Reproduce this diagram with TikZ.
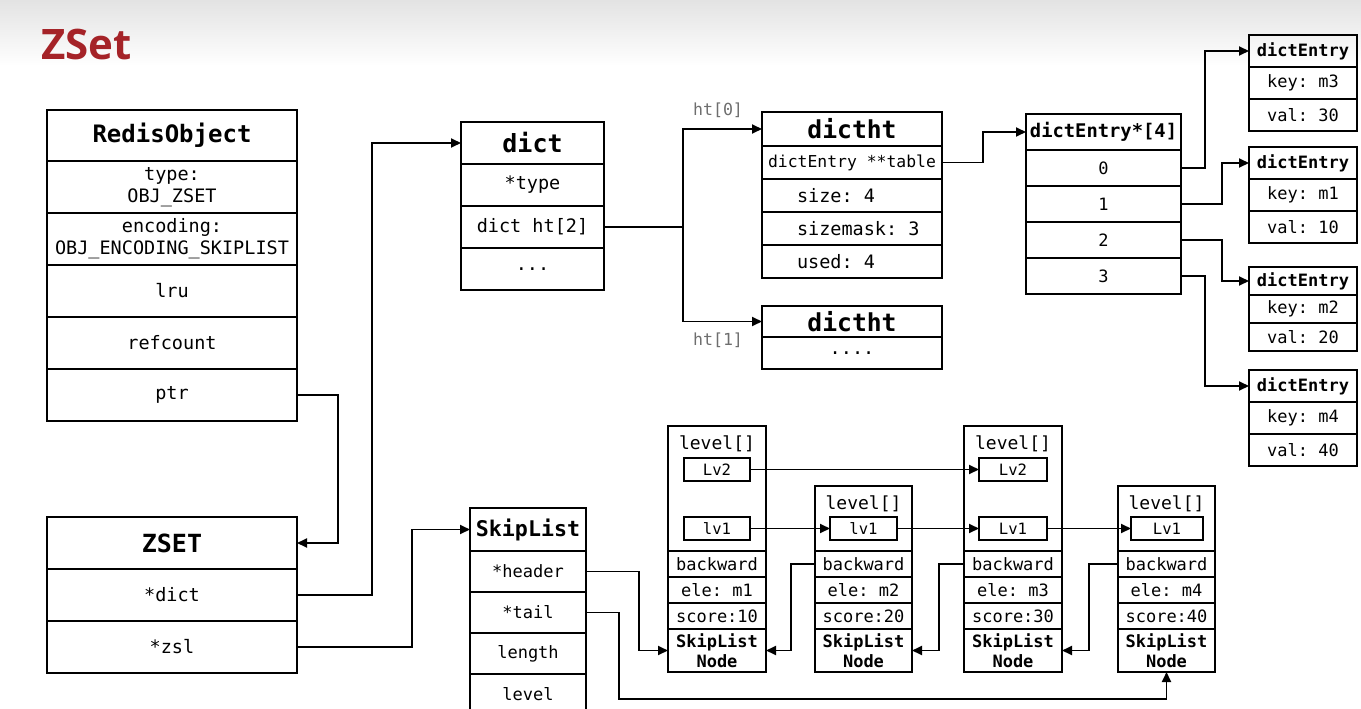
\documentclass[tikz,border=0pt]{standalone}
\usepackage{fontspec}
\setmonofont{DejaVu Sans Mono}
\newfontfamily\titlefont{Open Sans}
\usepackage{tikz}
\usetikzlibrary{arrows.meta, positioning}
\definecolor{titlered}{RGB}{165,35,40}
\definecolor{labelgray}{RGB}{110,110,110}
\newcommand{\fsz}[2]{\fontsize{#1pt}{#2pt}\selectfont\ttfamily}
\newcommand{\dtfield}[1]{\makebox[110pt][l]{#1}}

\begin{document}
\begin{tikzpicture}[x=1pt, y=-1pt,
  >={Triangle[length=10pt, width=9pt]},
  cell/.style={draw, line width=1.9pt, outer sep=0pt, inner sep=0pt, align=center,
    font=\fsz{18.5}{22}},
  head/.style={cell, font=\fsz{24}{28}\bfseries},
  robox/.style={minimum width=250pt, minimum height=52pt},
  dictbox/.style={minimum width=143pt, minimum height=42pt},
  dtrow/.style={cell, minimum width=180pt, minimum height=33pt},
  arrbox/.style={minimum width=155pt, minimum height=36pt},
  slbox/.style={minimum width=116pt, minimum height=41pt, font=\fsz{17}{20}},
  lvbox/.style={draw, line width=1.9pt, outer sep=0pt, inner sep=0pt, minimum height=23pt,
    font=\fsz{15.6}{18}},
  htlabel/.style={inner sep=0pt, text=labelgray, font=\fsz{16.6}{20}},
  line/.style={line width=1.9pt},
  conn/.style={line, ->}
]
\useasboundingbox (0,0) rectangle (1361,709);
\shade[top color=black!11, bottom color=white] (0,0) rectangle (1361,66);
\node[font=\titlefont\fontsize{42pt}{48pt}\selectfont\bfseries, text=titlered,
  anchor=base west, inner sep=0pt] (title) at (41,60) {ZSet};

% RedisObject
\node[head, robox, minimum height=51pt, anchor=north west] (ro) at (47,110) {RedisObject};
\node[cell, robox, below=0pt of ro] (ro-type) {type:\\OBJ\_ZSET};
\node[cell, robox, below=0pt of ro-type] (ro-enc) {encoding:\\OBJ\_ENCODING\_SKIPLIST};
\node[cell, robox, below=0pt of ro-enc] (ro-lru) {lru};
\node[cell, robox, below=0pt of ro-lru] (ro-ref) {refcount};
\node[cell, robox, below=0pt of ro-ref] (ro-ptr) {ptr};

% ZSET
\node[head, robox, font=\fsz{25}{28}\bfseries, anchor=north west] (zs) at (47,517) {ZSET};
\node[cell, robox, below=0pt of zs] (zs-dict) {*dict};
\node[cell, robox, below=0pt of zs-dict] (zs-zsl) {*zsl};

% dict
\node[head, dictbox, font=\fsz{25}{28}\bfseries, anchor=north west] (dict) at (461,122) {dict};
\node[cell, dictbox, below=0pt of dict] (dict-type) {*type};
\node[cell, dictbox, below=0pt of dict-type] (dict-ht) {dict ht[2]};
\node[cell, dictbox, below=0pt of dict-ht] (dict-more) {...};

% dictht
\node[head, minimum width=180pt, minimum height=34pt, font=\fsz{24.7}{28}\bfseries,
  anchor=north west] (ht0) at (762,112) {dictht};
\node[cell, minimum width=180pt, minimum height=33pt, font=\fsz{16.4}{18},
  below=0pt of ht0] (ht0-table) {dictEntry **table};
\node[dtrow, below=0pt of ht0-table] (ht0-size) {\dtfield{size: 4}};
\node[dtrow, below=0pt of ht0-size] (ht0-mask) {\dtfield{sizemask: 3}};
\node[dtrow, below=0pt of ht0-mask] (ht0-used) {\dtfield{used: 4}};
\node[head, minimum width=180pt, minimum height=31pt, font=\fsz{24.7}{28}\bfseries,
  anchor=north west] (ht1) at (762,306) {dictht};
\node[cell, minimum width=180pt, minimum height=32pt, below=0pt of ht1] (ht1-more) {....};
\node[htlabel] (lab0) at (718,110) {ht[0]};
\node[htlabel] (lab1) at (718,340) {ht[1]};

% dictEntry*[4]
\node[head, arrbox, font=\fsz{18.8}{22}\bfseries, anchor=north west] (arr) at (1026,114) {dictEntry*[4]};
\node[cell, arrbox, font=\fsz{17}{20}, below=0pt of arr] (arr-0) {0};
\node[cell, arrbox, font=\fsz{17}{20}, below=0pt of arr-0] (arr-1) {1};
\node[cell, arrbox, font=\fsz{17}{20}, below=0pt of arr-1] (arr-2) {2};
\node[cell, arrbox, font=\fsz{17}{20}, below=0pt of arr-2] (arr-3) {3};

\foreach \n/\top/\h/\k/\v in {1/35/32/m3/30, 2/147/32/m1/10, 3/267/28/m2/20, 4/370/32/m4/40}{
  \node[cell, minimum width=108pt, minimum height=\h pt, font=\fsz{17}{20}\bfseries,
    anchor=north west] (de\n) at (1249,\top) {dictEntry};
  \node[cell, minimum width=108pt, minimum height=\h pt, font=\fsz{17}{20},
    below=0pt of de\n] (de\n-key) {key: \k};
  \node[cell, minimum width=108pt, minimum height=\h pt, font=\fsz{17}{20},
    below=0pt of de\n-key] (de\n-val) {val: \v};
}

% SkipList
\node[head, minimum width=116pt, minimum height=43pt, font=\fsz{21.6}{24}\bfseries,
  anchor=north west] (sl) at (470,508) {SkipList};
\node[cell, slbox, below=0pt of sl] (sl-header) {*header};
\node[cell, slbox, below=0pt of sl-header] (sl-tail) {*tail};
\node[cell, slbox, below=0pt of sl-tail] (sl-length) {length};
\node[cell, slbox, below=0pt of sl-length] (sl-level) {level};

% skiplist nodes
\foreach \n/\x/\top/\w/\e/\s in {1/668/426/98/m1/10, 2/815/486/97/m2/20,
                                 3/964/426/98/m3/30, 4/1118/486/97/m4/40}{
  \node[cell, minimum width=\w pt, minimum height=(551-\top)*1pt, anchor=north west] (n\n) at (\x,\top) {};
  \node[inner sep=0pt, font=\fsz{18}{20}, below=9.5pt of n\n.north] (n\n-title) {level[]};
  \node[cell, minimum width=\w pt, minimum height=26pt, font=\fsz{17}{20}, below=0pt of n\n] (n\n-back) {backward};
  \node[cell, minimum width=\w pt, minimum height=26pt, font=\fsz{17}{20}, below=0pt of n\n-back] (n\n-ele) {ele: \e};
  \node[cell, minimum width=\w pt, minimum height=26pt, font=\fsz{17}{20}, below=0pt of n\n-ele] (n\n-score) {score:\s};
  \node[cell, minimum width=\w pt, minimum height=43pt, font=\fsz{17}{20}\bfseries,
    below=0pt of n\n-score] (n\n-name) {SkipList\\Node};
}
\node[lvbox, minimum width=66pt] (n1-lv2) at (717,469.5) {Lv2};
\node[lvbox, minimum width=66pt] (n1-lv1) at (717,528.5) {lv1};
\node[lvbox, minimum width=67pt] (n2-lv1) at (863.5,528.5) {lv1};
\node[lvbox, minimum width=68pt] (n3-lv2) at (1013,469.5) {Lv2};
\node[lvbox, minimum width=68pt] (n3-lv1) at (1013,528.5) {Lv1};
\node[lvbox, minimum width=72pt] (n4-lv1) at (1167,528.5) {Lv1};

% pointers
\draw[conn] (ro-ptr.east) -- ++(41,0) |- (zs.east);
\draw[conn] (zs-dict.east) -- ++(75,0) |- (dict.west);
\draw[conn] (zs-zsl.east) -- ++(115,0) |- (sl.west);
\draw[line] (dict-ht.east) -- ++(79,0) coordinate (htfork);
\draw[conn] (htfork) |- (ht0.west);
\draw[conn] (htfork) |- (ht1.west);
\draw[conn] (ht0-table.east) -- ++(41,0) |- (arr.west);
\draw[conn] (arr-0.east) -- ++(24,0) |- (de1.west);
\draw[conn] (arr-1.east) -- ++(41,0) |- (de2.west);
\draw[conn] (arr-2.east) -- ++(41,0) |- (de3.west);
\draw[conn] (arr-3.east) -- ++(24,0) |- (de4.west);
\draw[conn] (sl-header.east) -- ++(53,0) |- (n1-name.west);
\coordinate (tailturn) at (619,699);
\draw[conn] (sl-tail.east) -| (tailturn) -| (n4-name.south);
% forward levels
\draw[conn] (n1-lv2) -- (n3-lv2);
\draw[conn] (n1-lv1) -- (n2-lv1);
\draw[conn] (n2-lv1) -- (n3-lv1);
\draw[conn] (n3-lv1) -- (n4-lv1);
% backward
\draw[conn] (n2-back.west) -- ++(-24,0) |- (n1-name.east);
\draw[conn] (n3-back.west) -- ++(-25,0) |- (n2-name.east);
\draw[conn] (n4-back.west) -- ++(-29,0) |- (n3-name.east);
\end{tikzpicture}
\end{document}
